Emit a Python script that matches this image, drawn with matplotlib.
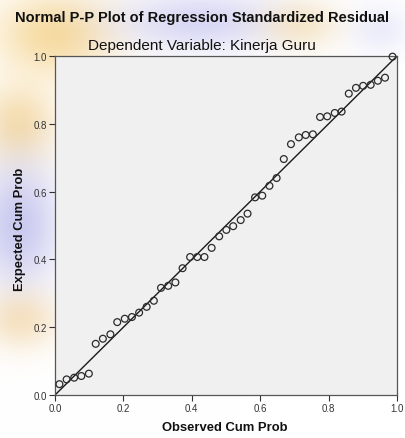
import matplotlib
matplotlib.use("Agg")
import matplotlib.pyplot as plt
import numpy as np

observed = [0.013, 0.034, 0.056, 0.077, 0.099, 0.119, 0.140, 0.162, 0.182, 0.204,
            0.225, 0.246, 0.268, 0.289, 0.310, 0.331, 0.352, 0.373, 0.395, 0.416,
            0.437, 0.458, 0.480, 0.501, 0.521, 0.543, 0.563, 0.585, 0.606, 0.627,
            0.648, 0.669, 0.690, 0.713, 0.733, 0.754, 0.775, 0.796, 0.818, 0.838,
            0.859, 0.880, 0.901, 0.923, 0.944, 0.965, 0.987]
expected = [0.032, 0.046, 0.051, 0.056, 0.063, 0.151, 0.166, 0.179, 0.215, 0.225,
            0.230, 0.243, 0.260, 0.278, 0.316, 0.322, 0.332, 0.374, 0.407, 0.407,
            0.407, 0.434, 0.468, 0.487, 0.498, 0.516, 0.535, 0.583, 0.588, 0.617,
            0.640, 0.696, 0.740, 0.760, 0.767, 0.769, 0.820, 0.822, 0.832, 0.836,
            0.889, 0.906, 0.912, 0.915, 0.927, 0.936, 0.998]
ticks = [0.0, 0.2, 0.4, 0.6, 0.8, 1.0]
tick_labels = ["0.0", "0.2", "0.4", "0.6", "0.8", "1.0"]

plt.rcParams['font.family'] = ['Liberation Sans', 'DejaVu Sans']

W, H = 406, 439
fig = plt.figure(figsize=(W / 100, H / 100), dpi=100)
fig.patch.set_facecolor('white')

# soft watermark behind the chart (background decoration)
yy, xx = np.mgrid[0:H, 0:W]
bg = np.ones((H, W, 3))
def soft(cx, cy, sx, sy, rgb, strength):
    global bg
    g = strength * np.exp(-(((xx - cx) / sx) ** 2 + ((yy - cy) / sy) ** 2))
    col = np.array(rgb) / 255.0
    bg = bg * (1 - g[..., None]) + col * g[..., None]

soft(55, 35, 60, 42, (243, 200, 110), 0.65)
soft(200, 22, 85, 30, (195, 195, 240), 0.65)
soft(300, 25, 40, 25, (245, 215, 155), 0.50)
soft(18, 125, 38, 40, (243, 205, 130), 0.65)
soft(18, 225, 42, 65, (185, 185, 235), 0.75)
soft(20, 320, 38, 30, (243, 210, 155), 0.60)
soft(380, 30, 30, 25, (210, 210, 245), 0.40)

bgax = fig.add_axes([0, 0, 1, 1], zorder=-5)
bgax.imshow(bg, extent=(0, W, H, 0), aspect='auto', interpolation='bilinear')
bgax.set_axis_off()

left, right, top, bottom = 55, 397, 57, 396
ax = fig.add_axes([left / W, 1 - bottom / H, (right - left) / W, (bottom - top) / H])
ax.set_facecolor('#f0f0f0')
ax.set_xlim(0, 1)
ax.set_ylim(0, 1)

ax.plot([0, 1], [0, 1], color='#1a1a1a', lw=1.0, zorder=2)
ax.scatter(observed, expected, s=24, facecolors='none', edgecolors='#2b2b2b',
           linewidths=0.9, zorder=3, clip_on=False)

ax.set_xticks(ticks)
ax.set_xticklabels(tick_labels)
ax.set_yticks(ticks)
ax.set_yticklabels(tick_labels)
ax.tick_params(direction='out', length=4, width=0.8, colors='#333333',
               labelsize=7, pad=2)
for s in ax.spines.values():
    s.set_color('#555555')
    s.set_linewidth(0.9)

fig.text(225 / W, 1 - 428 / H, 'Observed Cum Prob', ha='center', va='center',
         fontsize=9.4, fontweight='bold', color='#111111')
fig.text(20 / W, 1 - 229 / H, 'Expected Cum Prob', ha='center', va='center',
         rotation=90, fontsize=9.4, fontweight='bold', color='#111111')

fig.text(202 / W, 1 - 18 / H, 'Normal P-P Plot of Regression Standardized Residual',
         ha='center', va='center', fontsize=10.5, fontweight='bold', color='#111111')
fig.text(202 / W, 1 - 46 / H, 'Dependent Variable: Kinerja Guru',
         ha='center', va='center', fontsize=11, color='#111111')

fig.savefig('out.png', dpi=100)
